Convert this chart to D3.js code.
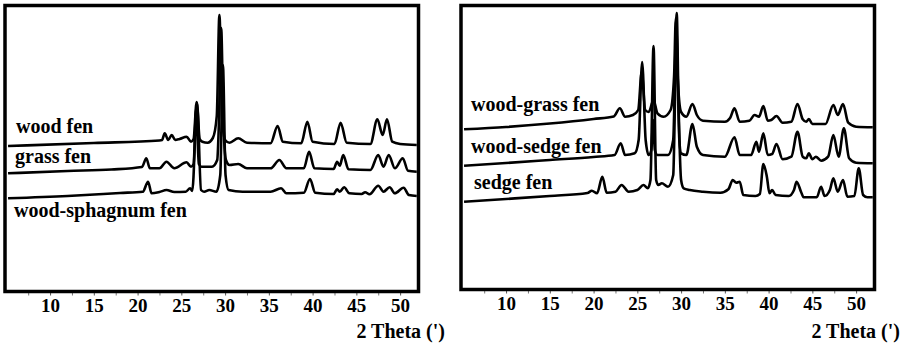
<!DOCTYPE html>
<html lang="en">
<head>
<meta charset="UTF-8">
<title>XRD fen peat</title>
<script src="https://d3js.org/d3.v7.min.js"></script>
<style>
  body { margin: 0; background: #fff; }
  svg text { font-family: "Liberation Serif", "Times New Roman", serif; font-weight: bold; fill: #000; }
</style>
</head>
<body>
<div id="chart"></div>
<script>
// tick labels (2 Theta) and minor ticks
var majorTicks = [10, 15, 20, 25, 30, 35, 40, 45, 50];
var minorTicks = [7.5, 12.5, 17.5, 22.5, 27.5, 32.5, 37.5, 42.5, 47.5];
var axisTitle = "2 Theta (')";

// series: [2theta, intensity]
var woodFen = [[5.2,145],[15,148],[22.5,150.5],[22.8,151],[23.1,157.7],[23.5,151],[23.9,156],[24.3,151],[24.8,152],[25.6,154.3],[26.1,149.3],[26.4,152],[26.75,189],[27.1,152],[27.4,149.3],[28.0,148.3],[28.6,153],[29.05,175],[29.35,276],[29.65,175],[30.0,151],[30.5,148.3],[31.5,152.7],[32.5,148.3],[35.2,147.7],[36.0,165],[36.6,149.3],[38.7,147.7],[39.4,169.3],[40.0,149.3],[42.5,147],[43.2,168.3],[43.9,148.3],[46.6,147],[47.4,171.7],[48.0,156],[48.5,171.7],[49.1,149.3],[50,147],[51.9,146]];
var grassFen = [[5.2,117.7],[12,120],[17,121.5],[20.5,124],[21.0,132.7],[21.4,122.7],[22.5,122.7],[23.3,129.3],[24.2,122.7],[25.6,128.7],[26.1,124.3],[26.4,127],[26.7,183],[27.0,127],[27.3,124.3],[28.5,124.3],[29.1,131],[29.3,170],[29.55,263],[29.8,170],[30.1,131],[30.5,126],[31.5,127],[32.5,122.7],[35.2,122.7],[36.2,131],[37.0,122.7],[39.0,122.7],[39.6,139.3],[40.2,122.7],[42.4,122],[42.8,129.3],[43.1,125.3],[43.5,136],[44.1,121.7],[46.6,121],[47.5,136],[48.1,124.3],[48.7,136],[49.4,122.7],[50.3,132.7],[50.9,120.3],[51.9,119.3]];
var woodSphagnumFen = [[5.2,92.7],[12,95],[18,98],[20.6,99.3],[21.2,109.3],[21.6,97.7],[22.5,99],[23.3,101],[24.2,99],[25.5,99.3],[26.0,102.7],[26.25,100],[26.8,188],[27.25,101],[27.6,99.3],[28.2,101],[29.0,99.3],[29.45,116],[29.75,226],[30.05,116],[30.4,101],[32,99.3],[35.2,99.3],[36.4,102.7],[37.0,97.7],[39.0,98.3],[39.7,112],[40.3,98.3],[42.4,97],[42.8,101.7],[43.1,99.3],[43.6,103.7],[44.2,97.7],[45.6,97],[46.0,98.7],[46.5,96.7],[47.5,105.3],[48.1,99.3],[48.8,103.7],[49.4,97.7],[50.4,103.3],[51.0,96],[51.9,95]];

var woodGrassFen = [[5.2,161.7],[10,164],[15,167.5],[20,172],[22.3,174.5],[23.0,182.7],[23.6,174.3],[24.5,176],[25.1,181],[25.5,219],[25.9,181],[26.3,179],[26.85,191],[27.3,177.7],[28.0,174.3],[28.8,181],[29.2,215],[29.4,273],[29.6,215],[30.0,179],[30.6,174.3],[31.3,187],[31.8,176],[32.5,170.3],[35.0,169.3],[35.6,173],[36.1,182.7],[36.7,169.3],[37.8,170.3],[38.4,176],[38.9,174.3],[39.4,185],[39.9,170.3],[40.3,171],[40.9,175],[41.6,168.3],[42.6,169.3],[43.3,187],[43.9,171.7],[44.3,169.3],[44.6,172],[45.0,167],[46.5,167],[47.4,186],[47.9,176],[48.5,187],[49.1,168.3],[50,164.3],[51.9,163.7]];
var woodSedgeFen = [[5.2,125.3],[10,128],[15,131],[20,134],[22.4,136],[23.1,147.7],[23.6,136],[24.7,137.7],[25.15,151],[25.55,229],[25.95,151],[26.3,136],[26.6,141],[26.8,171],[27.0,141],[27.3,136],[28.5,136],[29.1,151],[29.45,261],[29.8,151],[30.0,137.7],[30.6,136],[31.3,167],[31.8,144.3],[32.5,136],[35.0,134.3],[36.1,153.7],[36.7,136],[38.0,136],[38.6,149.3],[38.9,139.3],[39.4,157.7],[39.9,136],[40.4,137],[40.9,147],[41.6,131.7],[42.6,134.3],[43.3,159.3],[43.9,134.3],[44.3,132.7],[44.6,137.7],[45.0,131.7],[45.4,134.3],[46.0,130.3],[46.8,134.3],[47.4,156],[48.0,134.3],[48.6,162.7],[49.2,132.7],[50,128.3],[51.9,127.7]];
var sedgeFen = [[5.2,89.3],[10,92],[15,95],[19.3,98],[19.8,100.3],[20.4,97.7],[21.0,114.3],[21.5,98.3],[22.5,99.3],[23.2,106],[24.0,99.3],[25.0,101],[25.7,106],[26.2,102.7],[26.5,111],[26.85,245],[27.15,111],[27.4,106],[27.8,107.7],[28.5,104.3],[29.1,116],[29.3,190],[29.5,278],[29.7,190],[30.0,111],[30.3,102.7],[31.0,101],[32.5,99.3],[34.5,98.3],[35.4,101.7],[35.9,111],[36.3,108.3],[36.7,109.3],[37.1,96],[38.5,95],[39.0,97],[39.4,127],[39.8,114.3],[40.1,97.7],[40.4,101],[40.8,96],[42.3,95],[42.9,101],[43.2,109.3],[43.7,99.3],[44.0,93.7],[45.5,93.7],[46.0,104.3],[46.4,95],[47.0,101],[47.4,112.7],[47.9,99.3],[48.5,111],[49.0,94.3],[49.8,95],[50.3,122.7],[50.8,96],[51.3,93.7],[51.9,93.7]];

var leftSeries = [
  { name: "wood fen", values: woodFen, lx: 16, ly: 133 },
  { name: "grass fen", values: grassFen, lx: 15, ly: 162.5 },
  { name: "wood-sphagnum fen", values: woodSphagnumFen, lx: 14, ly: 216.5 }
];
var rightSeries = [
  { name: "wood-grass fen", values: woodGrassFen, lx: 471, ly: 110.5 },
  { name: "wood-sedge fen", values: woodSedgeFen, lx: 471, ly: 152.5 },
  { name: "sedge fen", values: sedgeFen, lx: 474, ly: 189 }
];

var svg = d3.select('#chart').append('svg')
  .attr('width', 905)
  .attr('height', 345);

svg.append('rect').attr('width', 905).attr('height', 345).attr('fill', '#fff');

var y = d3.scaleLinear()
  .domain([0, 285])
  .range([291, 6]);

function drawPanel(series, offset, bottom, titleX) {
  var x = d3.scaleLinear()
    .domain([4.85, 52.1])
    .range([5 + offset, 418.5 + offset]);

  var line = d3.line()
    .x(function(d) { return x(d[0]); })
    .y(function(d) { return y(d[1]); })
    .curve(d3.curveMonotoneX);

  var g = svg.append('g');

  // minor ticks
  var minor = g.append('g')
    .attr('transform', 'translate(0,' + bottom + ')')
    .call(d3.axisBottom(x).tickValues(minorTicks).tickSize(4).tickFormat(''));
  minor.select('.domain').remove();
  minor.selectAll('line').attr('stroke', '#777');

  var major = g.append('g')
    .attr('transform', 'translate(0,' + bottom + ')')
    .call(d3.axisBottom(x).tickValues(majorTicks).tickSize(4).tickPadding(3))
    .attr('font-family', null)
    .attr('font-size', null);
  major.select('.domain').remove();
  major.selectAll('line').attr('stroke', '#555');
  major.selectAll('text')
    .style('font-size', '19px')
    .attr('fill', '#000');

  g.selectAll('path.trace').data(series)
    .enter().append('path')
    .attr('class', 'trace')
    .attr('d', function(d) { return line(d.values); })
    .attr('fill', 'none')
    .attr('stroke', '#000')
    .attr('stroke-width', 2.6)
    .attr('stroke-linejoin', 'round');

  g.selectAll('text.lab').data(series)
    .enter().append('text')
    .attr('class', 'lab')
    .attr('x', function(d) { return d.lx; })
    .attr('y', function(d) { return d.ly; })
    .style('font-size', '20px')
    .text(function(d) { return d.name; });

  // frame
  g.append('rect')
    .attr('x', x.range()[0])
    .attr('y', 5.5)
    .attr('width', x.range()[1] - x.range()[0])
    .attr('height', bottom - 5.5)
    .attr('fill', 'none')
    .attr('stroke', '#000')
    .attr('stroke-width', 3.5);

  g.append('text')
    .attr('x', titleX)
    .attr('y', 338)
    .attr('text-anchor', 'end')
    .style('font-size', '20px')
    .text(axisTitle);
}

drawPanel(leftSeries, 0, 291.5, 445);
drawPanel(rightSeries, 456, 289.5, 900);
</script>
</body>
</html>
